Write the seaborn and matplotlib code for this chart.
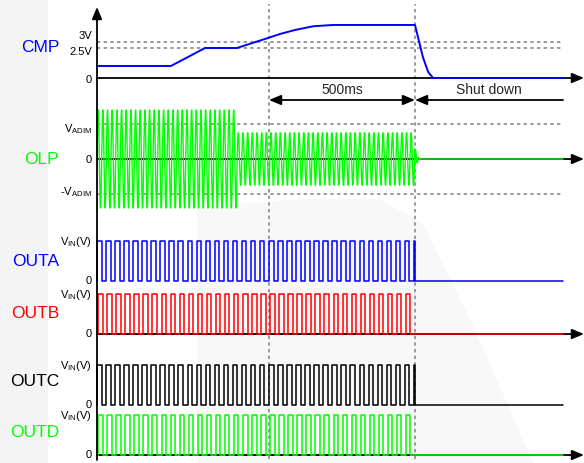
import numpy as np
import matplotlib
matplotlib.use("Agg")
import matplotlib.pyplot as plt
import seaborn as sns

# CMP voltage (V) against time (ms)
cmp_t = [0, 253, 370, 479, 589, 627, 678, 740, 808, 1089, 1116, 1134, 1151, 1596]
cmp_v = [1.0, 1.0, 2.5, 2.5, 3.36, 3.67, 4.0, 4.31, 4.42, 4.42, 1.75, 0.5, 0.0, 0.0]
cmp_levels = [3.0, 2.5]
cmp_level_labels = ["3V", "2.5V"]

# OLP sine: amplitude (in V_ADIM units) per time segment
olp_edges = [0, 479, 1089]
olp_amp = [1.4, 0.75]
olp_period = 16.0

# gate outputs
out_names = ["OUTA", "OUTB", "OUTC", "OUTD"]
out_colors = ["#0000ff", "#ff0000", "#000000", "#00ff00"]
out_phase = [0.0, 4.0, 0.0, 4.0]
out_period = 31.0
out_duty = 0.5

t_marks = [589, 1089]      # start of 500ms window, shut down
t_end = 1596

# ---- layout (pixel-ish units, y measured up from bottom) ----
W, H = 584, 464
x0 = 97                     # pixel column of t = 0
px_per_ms = 146 / 500


def tx(px):
    return (px - x0) / px_per_ms


cmp_base, cmp_scale = 385, 12
olp_base, olp_scale = 304, 35
out_base = [182, 129, 58, 8]
out_high = 40

sns.set_theme(style="white")
plt.rcParams["font.family"] = ["Liberation Sans", "DejaVu Sans"]
plt.rcParams["mathtext.default"] = "regular"

fig = plt.figure(figsize=(W / 100, H / 100), dpi=100)
ax = fig.add_axes([0, 0, 1, 1])
ax.set_xlim(tx(0), tx(W))
ax.set_ylim(0, H)
ax.axis("off")

# light side panel and faint watermark (pixel corners, y from top)
ax.axvspan(tx(0), tx(48), color="#f4f4f4", zorder=0, lw=0)
wm_px = [(197, 464), (197, 208), (300, 200), (380, 200), (423, 225), (470, 320), (533, 464)]
ax.fill([tx(p[0]) for p in wm_px], [H - p[1] for p in wm_px], color="#f8f8f8", lw=0, zorder=0)

dash = dict(color="#8a8a8a", lw=1.2, ls=(0, (2, 2)), zorder=1)
# horizontal reference levels
for v in cmp_levels:
    ax.plot([0, t_end], [cmp_base + v * cmp_scale] * 2, **dash)
for s in (1, -1):
    ax.plot([0, t_end], [olp_base + s * olp_scale] * 2, **dash)
# vertical markers
for t in t_marks:
    ax.plot([t, t], [4, 459], **dash)

# axes with arrows
arrow = dict(arrowstyle="-|>,head_length=0.6,head_width=0.25", color="black", lw=1.3,
             shrinkA=0, shrinkB=0)
ax.annotate("", xy=(0, 456), xytext=(0, 3), arrowprops=arrow, zorder=5)
for yb in (cmp_base, olp_base, out_base[1], out_base[3]):
    ax.annotate("", xy=(tx(584), yb), xytext=(0, yb), arrowprops=arrow, zorder=2)

# CMP
sns.lineplot(x=cmp_t, y=[cmp_base + v * cmp_scale for v in cmp_v], ax=ax,
             color="#0000ff", lw=1.4, sort=False, estimator=None, zorder=4)

# OLP sine
t = np.linspace(0, olp_edges[-1], 8000)
amp = np.where(t < olp_edges[1], olp_amp[0], olp_amp[1])
y = amp * np.sin(2 * np.pi * t / olp_period)
tr = np.linspace(olp_edges[-1], olp_edges[-1] + 25, 300)
yr = olp_amp[1] * 0.5 * np.exp(-(tr - olp_edges[-1]) / 6) * np.sin(2 * np.pi * (tr - olp_edges[-1]) / 10)
t_all = np.concatenate([t, tr, [t_end]])
y_all = np.concatenate([y, yr, [0]])
sns.lineplot(x=t_all, y=olp_base + y_all * olp_scale, ax=ax, color="#00ff00", lw=1.0,
             sort=False, estimator=None, zorder=3)

# square-wave outputs
for name, col, ph, yb in zip(out_names, out_colors, out_phase, out_base):
    xs, ys = [], []
    for s in np.arange(ph, t_marks[1], out_period):
        e = min(s + out_period * out_duty, t_marks[1])
        xs += [s, s, e, e]
        ys += [0, 1, 1, 0]
    xs += [t_marks[1], t_end]
    ys += [0, 0]
    sns.lineplot(x=xs, y=[yb + v * out_high for v in ys], ax=ax, color=col, lw=1.1,
                 sort=False, estimator=None, zorder=3)

# 500ms / shut down arrows
y_arr = 363
ax.annotate("", xy=(t_marks[0], y_arr), xytext=(t_marks[1], y_arr),
            arrowprops=dict(arrowstyle="<|-|>,head_length=0.6,head_width=0.25",
                            color="black", lw=1.3, shrinkA=0, shrinkB=0))
ax.annotate("", xy=(t_marks[1], y_arr), xytext=(t_end, y_arr),
            arrowprops=dict(arrowstyle="-|>,head_length=0.6,head_width=0.25",
                            color="black", lw=1.3, shrinkA=0, shrinkB=0))
ax.text((t_marks[0] + t_marks[1]) / 2, 374, "500ms", ha="center", va="center", fontsize=10)
ax.text((t_marks[1] + t_end) / 2, 374, "Shut down", ha="center", va="center", fontsize=10)

# tick labels
tick_x = tx(92)
tk = dict(ha="right", va="center", fontsize=8, color="black")
for v, lab, yoff in zip(cmp_levels, cmp_level_labels, (7, -3)):
    ax.text(tick_x, cmp_base + v * cmp_scale + yoff, lab, **tk)
ax.text(tick_x, cmp_base - 1, "0", **tk)
ax.text(tick_x, olp_base + olp_scale - 4, "V$_{ADIM}$", **tk)
ax.text(tick_x, olp_base, "0", **tk)
ax.text(tick_x, olp_base - olp_scale + 3, "-V$_{ADIM}$", **tk)
for yb in out_base:
    ax.text(tick_x, yb + out_high, "V$_{IN}$(V)", **tk)
    ax.text(tick_x, yb + 1, "0", **tk)

# signal names
name_x = tx(59)
ax.text(name_x, 416, "CMP", ha="right", va="center", fontsize=12.5, color="#0000ff")
ax.text(name_x, olp_base, "OLP", ha="right", va="center", fontsize=12.5, color="#00ff00")
for name, col, yy in zip(out_names, out_colors, (202, 151, 82, 31)):
    ax.text(name_x, yy, name, ha="right", va="center", fontsize=12.5, color=col)

fig.savefig("out.png", dpi=100)
